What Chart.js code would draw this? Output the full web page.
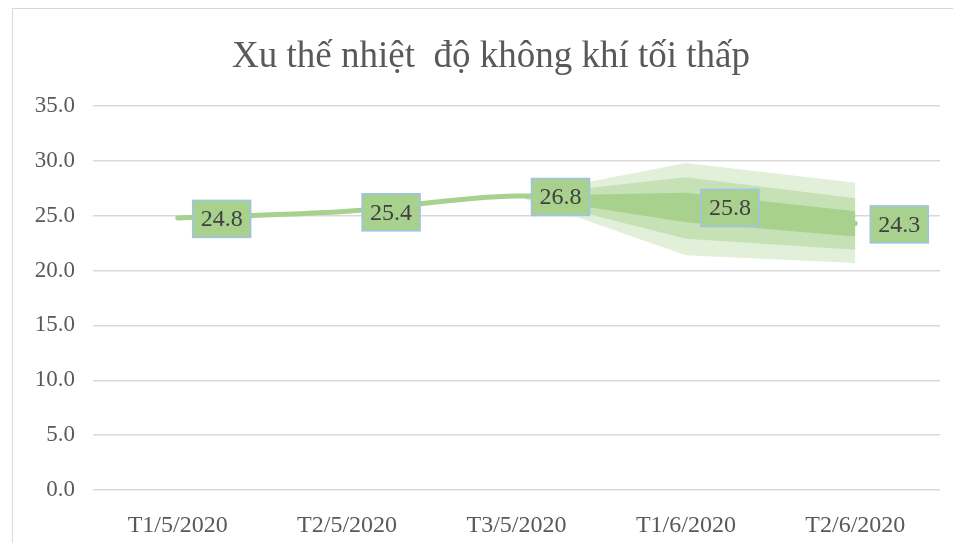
<!DOCTYPE html>
<html>
<head>
<meta charset="utf-8">
<script src="https://cdn.jsdelivr.net/npm/chart.js@4/dist/chart.umd.min.js"></script>
<style>
  body { margin: 0; background: #fff; overflow: hidden; }
  .frame { position: absolute; left: 12px; top: 8px; width: 960px; height: 560px; border: 1px solid #d9d9d9; }
  #wrap { position: absolute; left: 0; top: 0; width: 953px; height: 543px; }
</style>
</head>
<body>
<div class="frame"></div>
<div id="wrap"><canvas id="chart" width="953" height="543"></canvas></div>
<script>
const categories = ["T1/5/2020", "T2/5/2020", "T3/5/2020", "T1/6/2020", "T2/6/2020"];
const tempMin = [24.8, 25.4, 26.8, 25.8, 24.3];
// fan bands (forecast range)
const darkUpper  = [null, null, 26.8, 27.1, 25.4];
const darkLower  = [null, null, 26.8, 24.4, 23.1];
const midUpper   = [null, null, 26.8, 28.5, 26.6];
const midLower   = [null, null, 26.8, 22.9, 21.9];
const lightUpper = [null, null, 26.8, 29.8, 28.0];
const lightLower = [null, null, 26.8, 21.4, 20.7];
const yMin = 0, yMax = 35, yStep = 5;
const chartTitle = "Xu thế nhiệt  độ không khí tối thấp";

const serif = "'Liberation Serif', 'Times New Roman', serif";
const green = "#a9d18e";

function band(data, color, fillTo) {
  return {
    data: data,
    borderWidth: 0,
    pointRadius: 0,
    tension: 0,
    backgroundColor: color,
    fill: fillTo === undefined ? false : fillTo
  };
}

// title centred on the outer frame like the original, not on the canvas
const frameTitle = {
  id: "frameTitle",
  afterDraw(chart) {
    const ctx = chart.ctx;
    ctx.save();
    ctx.font = "37px " + serif;
    ctx.fillStyle = "#595959";
    ctx.textAlign = "center";
    ctx.textBaseline = "middle";
    ctx.fillText(chartTitle, 491, 57);
    ctx.restore();
  }
};

const labelBoxes = {
  id: "labelBoxes",
  afterDatasetsDraw(chart) {
    const ctx = chart.ctx;
    const meta = chart.getDatasetMeta(0);
    ctx.save();
    ctx.font = "24px " + serif;
    ctx.textBaseline = "middle";
    meta.data.forEach((pt, i) => {
      const txt = tempMin[i].toFixed(1);
      const w = ctx.measureText(txt).width + 16;
      const h = 37;
      const x = pt.x + 15;
      const y = pt.y - h / 2 + 1;
      ctx.fillStyle = green;
      ctx.fillRect(x, y, w, h);
      ctx.strokeStyle = "#9dc3e6";
      ctx.lineWidth = 1.5;
      ctx.strokeRect(x, y, w, h);
      ctx.fillStyle = "#404040";
      ctx.textAlign = "left";
      ctx.fillText(txt, x + 8, y + h / 2 + 1);
    });
    ctx.restore();
  }
};

new Chart(document.getElementById("chart"), {
  type: "line",
  data: {
    labels: categories,
    datasets: [
      {
        data: tempMin,
        borderColor: green,
        borderWidth: 5,
        borderCapStyle: "round",
        pointRadius: 0,
        tension: 0.35,
        fill: false
      },
      band(darkUpper, "#a9d18e", 2),
      band(darkLower, "#a9d18e"),
      band(midUpper, "#c6e1b5", 4),
      band(midLower, "#c6e1b5"),
      band(lightUpper, "#e2efd9", 6),
      band(lightLower, "#e2efd9")
    ]
  },
  options: {
    responsive: false,
    animation: false,
    devicePixelRatio: 1,
    layout: { padding: { left: 0, right: 13, top: 106, bottom: 0 } },
    plugins: {
      legend: { display: false },
      tooltip: { enabled: false },
      title: { display: false }
    },
    scales: {
      x: {
        offset: true,
        grid: { display: false },
        border: { display: false },
        ticks: { color: "#595959", font: { family: serif, size: 24 }, padding: 13, maxRotation: 0 },
        afterFit: s => { s.height = 53; }
      },
      y: {
        min: yMin,
        max: yMax,
        ticks: {
          stepSize: yStep,
          color: "#595959",
          font: { family: serif, size: 23 },
          padding: 18,
          callback: v => v.toFixed(1)
        },
        grid: { color: "#d9d9d9", lineWidth: 1.5, drawTicks: false },
        border: { display: false },
        afterFit: s => { s.width = 93; }
      }
    }
  },
  plugins: [labelBoxes, frameTitle]
});
</script>
</body>
</html>
